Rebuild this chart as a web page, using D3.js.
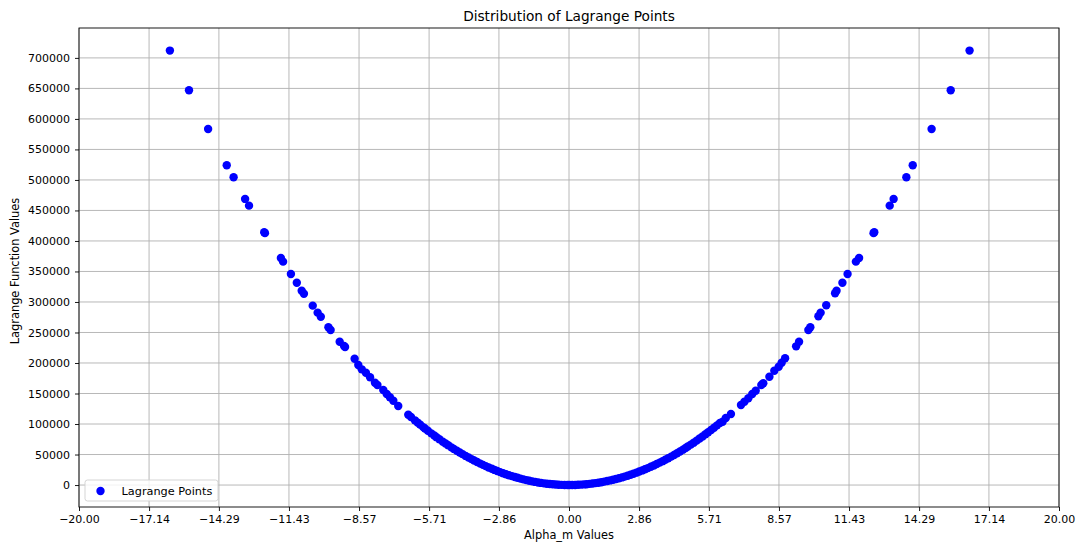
<!DOCTYPE html>
<html>
<head>
<meta charset="utf-8">
<script src="https://cdn.jsdelivr.net/npm/d3@7"></script>
<style>
  body { margin: 0; background: #fff; }
  svg { display: block; font-family: "DejaVu Sans", sans-serif; }
</style>
</head>
<body>
<svg id="chart" width="1078" height="544"></svg>
<script>
// values (alpha_m, lagrange function value)
const alphaValues = [
  -16.29, -15.51, -14.73, -13.97, -13.69, -13.22, -13.06, -12.44, -12.41,
  -11.76, -11.67, -11.35, -11.11, -10.91, -10.82, -10.46, -10.26, -10.13,
  -9.82, -9.73, -9.36, -9.18, -9.14, -8.75, -8.60, -8.46, -8.29, -8.12,
  -7.92, -7.82, -7.58, -7.44, -7.31, -7.17, -6.97,
  -6.56, -6.45, -6.29, -6.18, -6.08, -5.95, -5.88, -5.76, -5.62, -5.50,
  -5.41, -5.29, -5.15, -5.04, -4.93, -4.80, -4.70, -4.58, -4.46, -4.35,
  -4.22, -4.10, -3.98, -3.87, -3.75, -3.62, -3.51, -3.40, -3.28, -3.15,
  -3.04, -2.93, -2.81, -2.69, -2.57, -2.45, -2.33, -2.21, -2.10, -1.98,
  -1.86, -1.74, -1.62, -1.50, -1.38, -1.26, -1.14, -1.02, -0.90, -0.78,
  -0.66, -0.54, -0.42, -0.30, -0.18, -0.06,
  0.02, 0.13, 0.25, 0.37, 0.49, 0.61, 0.72, 0.84, 0.96, 1.08,
  1.20, 1.32, 1.44, 1.56, 1.68, 1.80, 1.92, 2.04, 2.16, 2.27,
  2.39, 2.51, 2.63, 2.75, 2.87, 2.99, 3.10, 3.22, 3.34, 3.46,
  3.58, 3.70, 3.82, 3.93, 4.05, 4.17, 4.29, 4.41, 4.53, 4.65,
  4.76, 4.85, 4.97, 5.09, 5.21, 5.33, 5.45, 5.57, 5.68, 5.80,
  5.92, 6.04, 6.16, 6.27, 6.40, 6.61,
  7.02, 7.16, 7.32, 7.48, 7.62, 7.85, 7.93, 8.18, 8.38, 8.56,
  8.68, 8.82, 9.27, 9.39, 9.77, 9.85, 10.18, 10.27, 10.50, 10.86,
  10.92, 11.16, 11.37, 11.71, 11.84, 12.43, 12.46, 13.09, 13.25, 13.77,
  14.03, 14.80, 15.58, 16.35
];

const lagrangeValues = [
  712000, 647000, 583600, 524100, 504400, 468900, 457900, 414300, 412800,
  372100, 366100, 345900, 331600, 318500, 313600, 294000, 282500, 275900,
  258500, 254100, 234900, 227900, 226200, 207000, 196700, 189600, 184100, 176600,
  167700, 163900, 155700, 149200, 143800, 138200, 129500,
  115330, 111500, 106030, 102350, 99070, 94880, 92660, 88920, 84650, 81070,
  78440, 75000, 71080, 68080, 65140, 61750, 59200, 56220, 53310, 50710,
  47730, 45050, 42450, 40140, 37690, 35120, 33020, 30980, 28830, 26590,
  24770, 23010, 21160, 19390, 17700, 16090, 14550, 13090, 11820, 10510,
  9270, 8110, 7030, 6030, 5100, 4250, 3480, 2790, 2170, 1630,
  1170, 780, 470, 240, 90, 10,
  1, 45, 170, 370, 640, 1000, 1390, 1890, 2470, 3130,
  3860, 4670, 5560, 6520, 7560, 8680, 9880, 11150, 12500, 13810,
  15310, 16880, 18540, 20270, 22070, 23960, 25750, 27790, 29900, 32080,
  34350, 36690, 39110, 41390, 43960, 46600, 49320, 52120, 55000, 57950,
  60720, 63040, 66200, 69430, 72750, 76140, 79600, 83150, 86460, 90160,
  93920, 97770, 101690, 103800, 109800, 116400,
  131100, 136600, 142100, 149200, 154600, 163900, 166700, 177500, 187400, 193900,
  200500, 207700, 227300, 234900, 254100, 258500, 276600, 282500, 294600, 314200,
  318500, 331600, 345900, 366100, 372100, 412800, 414300, 457900, 468900, 504400,
  524100, 583600, 647000, 712000
];

const xTicks = [-20, -17.14, -14.29, -11.43, -8.57, -5.71, -2.86, 0, 2.86, 5.71, 8.57, 11.43, 14.29, 17.14, 20];
const yTicks = [0, 50000, 100000, 150000, 200000, 250000, 300000, 350000,
  400000, 450000, 500000, 550000, 600000, 650000, 700000];

const titleText = "Distribution of Lagrange Points";
const xLabel = "Alpha_m Values";
const yLabel = "Lagrange Function Values";
const seriesName = "Lagrange Points";

const plotLeft = 79, plotRight = 1059, plotTop = 28, plotBottom = 507;

const svg = d3.select("#chart");

const x = d3.scaleLinear().domain([-20, 20]).range([plotLeft, plotRight]);
const y = d3.scaleLinear().domain([-36000, 749000]).range([plotBottom, plotTop]);

// grid
svg.append("g")
  .selectAll("line")
  .data(xTicks)
  .enter()
  .append("line")
  .attr("x1", d => x(d)).attr("x2", d => x(d))
  .attr("y1", plotTop).attr("y2", plotBottom)
  .attr("stroke", "#b0b0b0").attr("stroke-width", 0.9);

svg.append("g")
  .selectAll("line")
  .data(yTicks)
  .enter()
  .append("line")
  .attr("x1", plotLeft).attr("x2", plotRight)
  .attr("y1", d => y(d)).attr("y2", d => y(d))
  .attr("stroke", "#b0b0b0").attr("stroke-width", 0.9);

// points
const points = alphaValues.map((a, i) => ({a: a, v: lagrangeValues[i]}));

svg.append("g")
  .selectAll("circle")
  .data(points)
  .enter()
  .append("circle")
  .attr("cx", d => x(d.a))
  .attr("cy", d => y(d.v))
  .attr("r", 4.2)
  .attr("fill", "#0000ff");

// axes
const xAxis = svg.append("g")
  .attr("transform", "translate(0," + plotBottom + ")")
  .call(d3.axisBottom(x).tickValues(xTicks).tickFormat(d => d3.format(".2f")(d)).tickSize(4).tickPadding(4));

const yAxis = svg.append("g")
  .attr("transform", "translate(" + plotLeft + ",0)")
  .call(d3.axisLeft(y).tickValues(yTicks).tickFormat(d3.format("d")).tickSize(4).tickPadding(5));

[xAxis, yAxis].forEach(g => {
  g.select(".domain").remove();
  g.selectAll("line").attr("stroke", "#000").attr("stroke-width", 0.9);
  g.selectAll("text").attr("fill", "#000").style("font-size", "11px")
    .style("font-family", "DejaVu Sans, sans-serif");
});

// frame
svg.append("rect")
  .attr("x", plotLeft).attr("y", plotTop)
  .attr("width", plotRight - plotLeft).attr("height", plotBottom - plotTop)
  .attr("fill", "none").attr("stroke", "#000").attr("stroke-width", 0.9);

// labels
svg.append("text")
  .attr("x", (plotLeft + plotRight) / 2).attr("y", 21)
  .attr("text-anchor", "middle")
  .style("font-size", "13.7px")
  .text(titleText);

svg.append("text")
  .attr("x", (plotLeft + plotRight) / 2).attr("y", 539)
  .attr("text-anchor", "middle")
  .style("font-size", "11.4px")
  .text(xLabel);

svg.append("text")
  .attr("transform", "translate(19," + 271 + ") rotate(-90)")
  .attr("text-anchor", "middle")
  .style("font-size", "11.4px")
  .text(yLabel);

// legend
const legend = svg.append("g");
legend.append("rect")
  .attr("x", 85).attr("y", 480)
  .attr("width", 133).attr("height", 21)
  .attr("rx", 2.5)
  .attr("fill", "#fff").attr("fill-opacity", 0.8)
  .attr("stroke", "#d0d0d0").attr("stroke-width", 0.9);
legend.append("circle")
  .attr("cx", 100.5).attr("cy", 491)
  .attr("r", 4.2)
  .attr("fill", "#0000ff");
legend.append("text")
  .attr("x", 121.5).attr("y", 495)
  .style("font-size", "11.3px")
  .text(seriesName);
</script>
</body>
</html>
